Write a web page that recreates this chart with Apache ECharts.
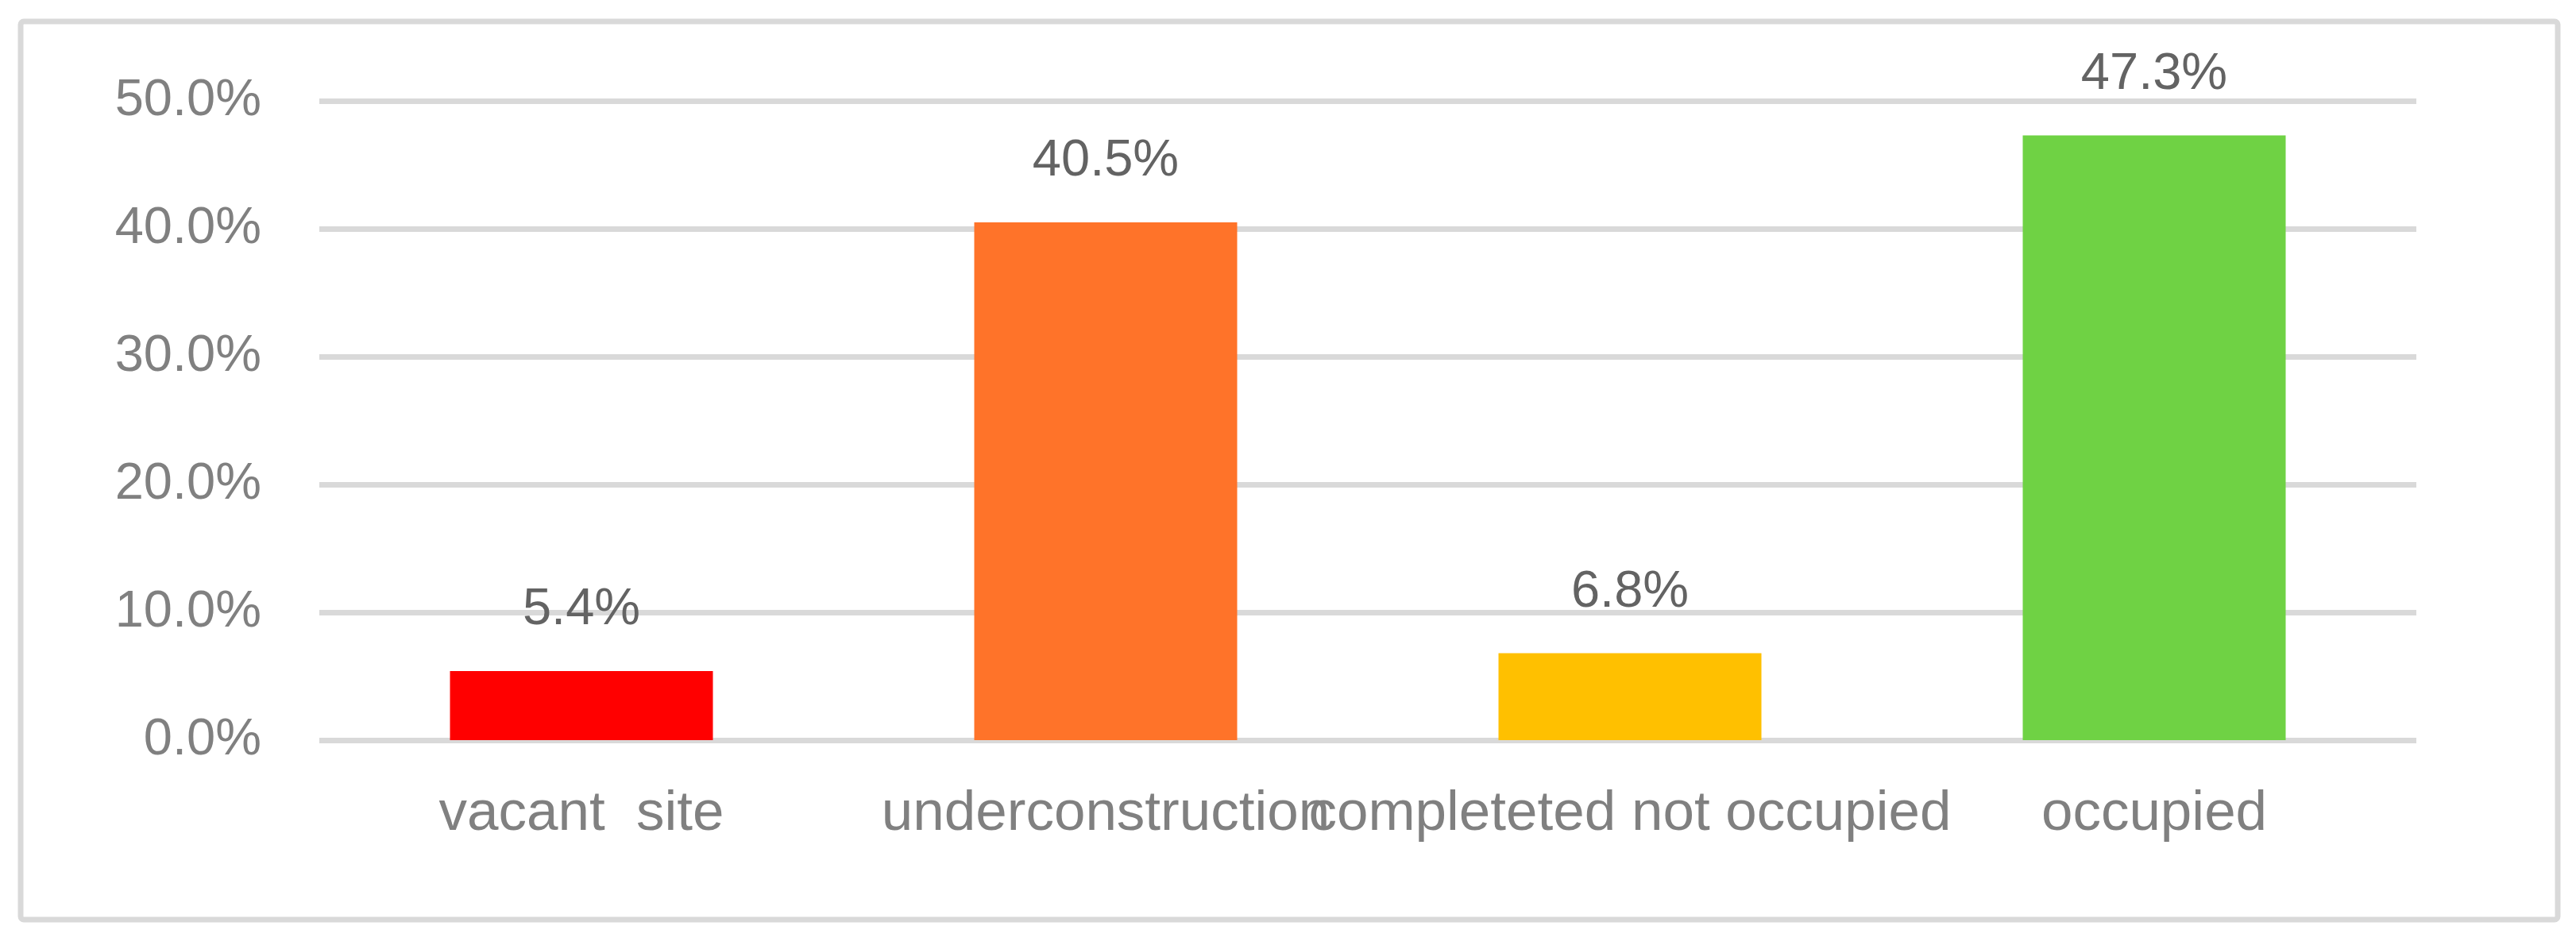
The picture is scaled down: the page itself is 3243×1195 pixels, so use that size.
<!DOCTYPE html>
<html>
<head>
<meta charset="utf-8">
<script src="https://cdn.jsdelivr.net/npm/echarts@6/dist/echarts.min.js"></script>
<style>
  html, body { margin: 0; padding: 0; background: #ffffff; }
  #chart { width: 3243px; height: 1195px; }
</style>
</head>
<body>
<div id="chart"></div>
<script>
  // data
  var categories = ['vacant  site', 'underconstruction', 'completeted not occupied', 'occupied'];
  var shares = [5.4, 40.5, 6.8, 47.3];
  var barColors = ['#ff0000', '#ff7329', '#ffc000', '#6fd244'];

  var chart = echarts.init(document.getElementById('chart'));

  var option = {
    backgroundColor: '#ffffff',
    animation: false,
    textStyle: { fontFamily: 'Liberation Sans, Arial, sans-serif' },
    graphic: [{
      type: 'rect',
      shape: { x: 26, y: 27, width: 3194, height: 1131, r: 4 },
      style: { fill: 'none', stroke: '#d9d9d9', lineWidth: 7 },
      z: -1
    }],
    grid: { left: 402, right: 201, top: 127, bottom: 263 },
    xAxis: {
      type: 'category',
      data: categories,
      axisLine: { show: false },
      axisTick: { show: false },
      axisLabel: {
        interval: 0,
        margin: 58,
        color: '#808080',
        fontSize: 71
      }
    },
    yAxis: {
      type: 'value',
      min: 0,
      max: 50,
      interval: 10,
      axisLine: { show: false },
      axisTick: { show: false },
      axisLabel: {
        margin: 73,
        color: '#808080',
        fontSize: 65,
        formatter: function (v) { return v.toFixed(1) + '%'; }
      },
      splitLine: { lineStyle: { color: '#d9d9d9', width: 7 } }
    },
    series: [{
      type: 'bar',
      barWidth: 331,
      data: shares.map(function (v, i) {
        return { value: v, itemStyle: { color: barColors[i] } };
      }),
      label: {
        show: true,
        position: 'top',
        distance: 44,
        color: '#636363',
        fontSize: 65,
        formatter: function (p) { return p.value.toFixed(1) + '%'; }
      }
    }]
  };

  chart.setOption(option);
</script>
</body>
</html>
